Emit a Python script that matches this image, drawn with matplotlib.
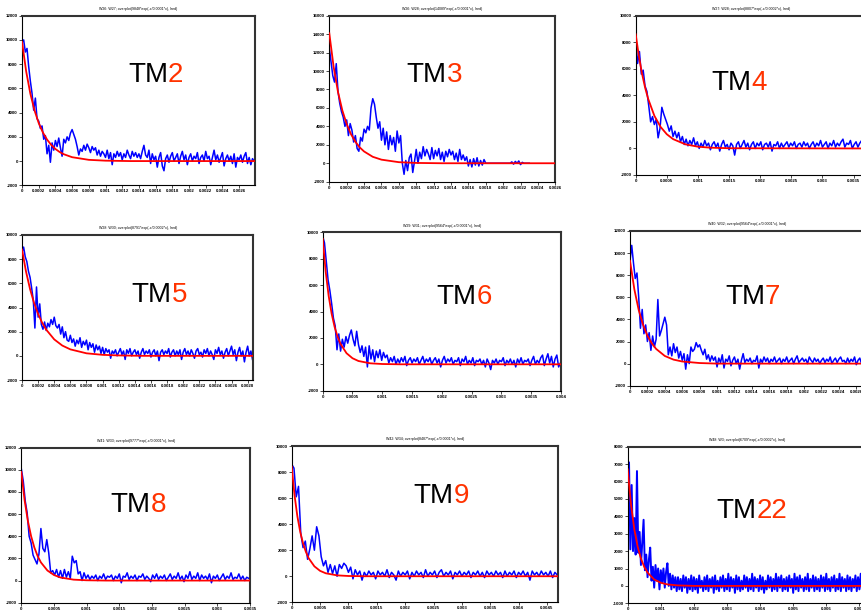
import numpy as np
import matplotlib
matplotlib.use('Agg')
import matplotlib.pyplot as plt
from matplotlib.ticker import MultipleLocator, FuncFormatter

W, H = 862, 611
plt.rcParams['font.family'] = ['Liberation Sans', 'DejaVu Sans']

# ---- data ----
names = ['2', '3', '4', '5', '6', '7', '8', '9', '22']
titles = [
    'W26: W27; overplot(9848*exp(-x/0.0001*x), lred)',
    'W26: W28; overplot(14089*exp(-x/0.0001*x), lred)',
    'W27: W28; overplot(8807*exp(-x/0.0002*x), lred)',
    'W28: W30; overplot(8791*exp(-x/0.0002*x), lred)',
    'W29: W31; overplot(9564*exp(-x/0.0001*x), lred)',
    'W40: W32; overplot(9564*exp(-x/0.0001*x), lred)',
    'W41: W33; overplot(9777*exp(-x/0.0001*x), lred)',
    'W42: W34; overplot(8487*exp(-x/0.0001*x), lred)',
    'W48: W3; overplot(6709*exp(-x/0.0002*x), lred)',
]

# blue traces (evenly sampled from 0 to *_end)
tm2_end = 0.00278
tm2 = [9800, 10000, 9000, 9300, 7800, 6600, 5600, 4200, 5200, 3500,
       3300, 2700, 2900, 1800, 2100, 600, 1300, -100, 1500, 900,
       1700, 1200, 1900, 1100, 400, 1800, 1500, 2000, 1700, 2300,
       2600, 2200, 1800, 1200, 500, 1000, 800, 1300, 900, 1400,
       1100, 700, 1200, 900, 1100, 500, 900, 400, 800, 600,
       300, 900, 200, 700, -300, 600, 300, 800, 400, 700,
       100, 600, 300, 900, 500, 200, 800, 400, 700, 300,
       600, 200, 800, 1300, 500, 300, 900, -200, 600, 100,
       400, -500, 300, 700, -400, -800, 200, 500, -100, 400,
       700, 0, 300, 600, -200, 400, 800, 100, 500, -300,
       300, 600, 0, 400, 200, 700, -200, 300, 500, 0,
       800, 200, 400, -300, 300, 900, 100, 500, -100, 300,
       700, -400, 200, 500, 0, 400, -200, 600, -500, 300,
       100, 500, -100, 400, 700, -200, 300, -300, 200, 0]

tm3_end = 0.0023
tm3 = [12500, 11000, 9500, 8800, 10800, 7800, 6500, 5600, 5000, 4000,
       4700, 3000, 4300, 3600, 2300, 3000, 1600, 1300, 2800, 2400,
       3700, 3300, 4000, 3600, 6000, 7000, 6400, 5000, 3800, 4500,
       2500, 3800, 2000, 3400, 1500, 3000, 2000, 2800, 1300, 3500,
       2200, 3000, 0, -1200, 300, -800, 600, 1000, -1000, 200,
       1500, 0, 1200, 500, 1800, 800, 1500, 1000, 400, 1700,
       500, 1400, 800, 1600, 400, 1200, 200, 1300, 700, 1500,
       900, 1300, 400, 1100, 200, 1500, 400, 900, 300, 700,
       -300, 400, -400, 500, -200, 600, -300, 300, -200, 400,
       0, 0, 0, 0, 0, 0, 0, 0, 0, 0,
       0, 0, 0, 0, 0, 150, -100, 200, 0, 250,
       -150, 100, 0, 0, 0, 0]

tm4_end = 0.00369
tm4 = [8300, 6400, 7300, 5600, 5900, 4700, 4300, 3200, 2000, 2400,
       1800, 2200, 800, 1500, 3100, 2600, 2200, 1800, 1300, 1700,
       900, 1300, 800, 1200, 500, 900, 300, 700, 200, 600,
       300, 800, 200, 500, 0, 400, 100, 600, 200, 400,
       -100, 300, 500, 100, 400, -200, 300, 600, 100, 300,
       -100, 400, 200, -500, 300, 500, 0, 300, 600, 100,
       400, -100, 300, 500, 0, 400, 200, 500, -100, 300,
       400, 100, 500, -200, 300, 200, 500, 0, 400, 100,
       300, 500, 100, 400, 200, 500, 0, 300, 400, 100,
       500, 200, 400, 0, 300, 500, 100, 400, 200, 600,
       100, 300, 500, 0, 400, 200, 600, 100, 400, 200,
       500, 700, 100, 400, 300, 600, 0, 300, 500, 100,
       400, 600, 200, 300]

tm5_end = 0.00286
tm5 = [8600, 9000, 8200, 7800, 7000, 6500, 5600, 4600, 2300, 5700,
       3200, 4300, 2600, 2200, 2800, 2100, 2700, 2400, 3000, 2600,
       3200, 2500, 2300, 2600, 1800, 2400, 1500, 2000, 1300, 1200,
       1700, 1100, 1400, 800, 1300, 1000, 1500, 700, 1200, 900,
       1300, 500, 1100, 700, 1000, 300, 900, 500, 800, 200,
       700, 100, 600, 300, 500, -200, 400, 200, 500, 0,
       300, 600, 100, 400, -300, 500, 200, 600, 0, 300,
       500, 100, 400, -200, 300, 600, 100, 400, 200, 500,
       -100, 300, 500, 0, 400, -400, 300, 500, 100, 400,
       200, 600, -100, 300, 500, 0, 400, 100, 500, -300,
       300, 600, 100, 400, 0, 500, 200, -200, 400, 600,
       100, 300, -100, 500, 200, 600, 0, 400, 100, -300,
       500, 200, 700, 100, 400, -200, 300, 600, 0, 400,
       800, 100, 500, -400, 300, 700, 0, 400, -500, 300,
       800, 0, 400, -300]

tm6_end = 0.00399
tm6 = [9700, 9200, 7800, 6400, 5600, 4600, 3500, 2900, 1100, 2300,
       1000, 1900, 1300, 2100, 1600, 2200, 2600, 1900, 1400, 2500,
       1500, 900, 1400, 600, 1300, -200, 1400, 400, 1100, 200,
       1000, 500, 1100, 300, 900, 500, 700, 100, 500, 200,
       600, 0, 400, 100, 500, 200, 600, -100, 300, 500,
       100, 400, 200, 500, 0, 300, 600, 100, 400, 200,
       500, 0, 300, 500, 100, 400, -200, 300, 600, 100,
       400, 200, 500, 0, 300, 200, 500, -100, 400, 200,
       600, 0, 300, 100, 500, -100, 300, 200, 400, 0,
       300, -200, 400, 100, -400, 300, 100, 400, 0, 300,
       200, 500, -100, 300, 100, 400, 0, 300, -200, 400,
       100, 500, 0, 300, 200, 400, -100, 300, 600, 0,
       300, 100, 500, 700, -100, 400, 800, 100, 600, -200,
       400, 700, -200, 100]

tm7_end = 0.00268
tm7 = [9300, 10700, 9100, 7700, 8200, 6000, 3200, 4900, 2700, 3500,
       2000, 2800, 1200, 2500, 1500, 2200, 5800, 2500, 3000, 3600,
       4200, 3500, 800, 1500, 700, 1800, 1000, 1500, 500, 1100,
       300, 900, -500, 800, 0, 1500, 1100, 1300, 1900, 1500,
       1700, 1200, 800, 1300, 400, 800, 200, 700, 300, 600,
       -300, 500, 100, 800, -400, 400, 200, 700, -200, 300,
       600, 0, 400, -500, 300, 900, 100, 400, 200, 500,
       0, 300, 200, 700, -400, 400, 100, 600, 200, 500,
       0, 400, 200, 600, 100, 300, 500, 0, 400, 200,
       600, 100, 300, 500, 0, 400, 700, 100, 300, 500,
       200, 400, 0, 600, 300, 100, 500, 200, 400, 0,
       300, 500, 100, 400, 200, 600, 0, 300, 500, 100,
       400, 600, 200, 300, 0, 500, 100, 400, 200, 600,
       -100, 300, 500, 0, 400]

tm8_end = 0.00348
tm8 = [10100, 9000, 7200, 6100, 4000, 3400, 2300, 1900, 1500, 2400,
       4700, 2900, 2600, 3700, 2500, 700, 900, 500, 1000, 300,
       900, 200, 1000, 300, 800, 200, 2200, 1600, 1800, 600,
       800, 0, 700, 200, 500, 100, 400, 200, 500, 0,
       400, 200, 600, 100, 400, 300, 500, 0, 400, 200,
       600, -200, 400, 300, 700, 100, 400, 200, 500, 0,
       400, 300, 600, 100, 400, 200, -100, 500, 200, 600,
       100, 400, 200, 500, 0, 300, 600, 100, 400, 200,
       700, 100, 400, -100, 500, 200, 800, 100, 400, 200,
       700, 0, 500, 200, 400, 100, 600, -200, 400, 200,
       500, 0, 300, 600, 100, 400, 200, 700, 100, 300,
       200, 600, 100, 400, 0, 300, 200]

tm9_end = 0.00468
tm9 = [8600, 8300, 6100, 6900, 3300, 2200, 2700, 1300, 2100, 3100,
       2000, 3800, 3100, 1500, 800, 1200, 300, 900, 200, 800,
       0, 900, 600, 1000, 800, 300, 700, -200, 500, 100,
       400, -300, 300, 0, 400, 100, 300, -200, 400, 100,
       300, 0, 500, -100, 300, 100, -300, 400, 0, 300,
       100, 400, -200, 300, 0, 400, 100, 300, -100, 500,
       0, 300, 100, 400, -100, 300, 500, 0, 300, 100,
       400, -200, 300, 100, 400, 0, 300, 100, 400, -100,
       300, 100, 400, 0, 300, -100, 400, 100, 300, 0,
       400, 100, 300, -100, 400, 0, 300, 100, 400, -100,
       300, 100, 400, 0, 300, -300, 400, 100, 300, 0,
       400, 100, 300, 0, 400, -100, 300, 100]

tm22_end = 0.00716
tm22 = [3500, 7100, 2100, 5800, 2000, 3900, 1800, 6600, 1900, 3100,
        1200, 2500, 3800, 900, 1800, 500, 1500, 2200, 300, 1100,
        -100, 1200, 300, 1000, -200, 900, 200, 1000, -100, 800,
        1300, 0, 700, -200, 600, -100, 500, -300, 500, -200,
        400, -300, 600, -100, 500, -400, 400, -200, 600, -300,
        500, -200, 400, -400, 600, -100, 300, -300, 500, -200,
        600, -300, 400, -100, 500, -400, 600, -200, 300, -300,
        500, -100, 600, -300, 400, -200, 700, -300, 500, -100,
        400, -400, 600, -200, 500, -300, 300, -200, 600, -100,
        500, -300, 400, -200, 700, -300, 500, -100, 400, -300,
        600, -200, 500, -400, 300, -200, 600, -100, 500, -300,
        400, -200, 700, -300, 500, -100, 600, -300, 400, -200,
        500, -300, 600, -100, 400, -400, 700, -200, 500, -300,
        600, -100, 400, -300, 500, -200, 700, -300, 400, -100,
        600, -300, 500, -200, 400, -300, 600, -100, 500, -300,
        700, -200, 400, -300, 500, -100, 600, -300, 400, -200,
        700, -300, 500, -100, 400, -300, 600, -200, 500, -300,
        400, -100, 600, -300, 500, -200, 700, -300, 400, -200]

# red exponential fits, sampled
tm2_fx = [0, 5e-5, 1e-4, 1.5e-4, 2e-4, 2.5e-4, 3e-4, 3.5e-4, 4e-4, 4.5e-4, 5e-4, 6e-4, 8e-4, 1e-3, 1.3e-3, 0.00279]
tm2_fy = [9848, 7400, 5560, 4180, 3140, 2360, 1775, 1330, 1000, 750, 566, 320, 102, 33, 0, 0]
tm3_fx = [0, 5e-5, 1e-4, 1.5e-4, 2e-4, 2.5e-4, 3e-4, 3.5e-4, 4e-4, 5e-4, 6e-4, 8e-4, 1e-3, 1.3e-3, 0.0026]
tm3_fy = [14089, 10440, 7730, 5730, 4250, 3140, 2330, 1720, 1280, 700, 390, 117, 35, 0, 0]
tm4_fx = [0, 5e-5, 1e-4, 1.5e-4, 2e-4, 3e-4, 4e-4, 5e-4, 6e-4, 8e-4, 1e-3, 1.2e-3, 1.5e-3, 0.0037]
tm4_fy = [8600, 6990, 5670, 4600, 3740, 2460, 1620, 1070, 705, 307, 133, 58, 17, 0]
tm5_fx = [0, 5e-5, 1e-4, 1.5e-4, 2e-4, 2.5e-4, 3e-4, 4e-4, 5e-4, 6e-4, 8e-4, 1e-3, 1.2e-3, 1.5e-3, 0.00287]
tm5_fy = [8800, 6970, 5520, 4370, 3460, 2740, 2170, 1360, 850, 534, 209, 83, 33, 0, 0]
tm6_fx = [0, 5e-5, 1e-4, 1.5e-4, 2e-4, 2.5e-4, 3e-4, 4e-4, 5e-4, 6e-4, 8e-4, 1e-3, 1.3e-3, 0.004]
tm6_fy = [9500, 7020, 5180, 3830, 2830, 2090, 1540, 840, 460, 250, 74, 22, 0, 0]
tm7_fx = [0, 5e-5, 1e-4, 1.5e-4, 2e-4, 2.5e-4, 3e-4, 4e-4, 5e-4, 6e-4, 8e-4, 1e-3, 0.0027]
tm7_fy = [9300, 6720, 4850, 3510, 2530, 1840, 1330, 690, 360, 190, 51, 0, 0]
tm8_fx = [0, 5e-5, 1e-4, 1.5e-4, 2e-4, 2.5e-4, 3e-4, 4e-4, 5e-4, 6e-4, 8e-4, 1e-3, 1.3e-3, 0.0035]
tm8_fy = [9800, 7270, 5400, 4010, 2980, 2210, 1640, 906, 500, 275, 83, 25, 0, 0]
tm9_fx = [0, 5e-5, 1e-4, 1.5e-4, 2e-4, 2.5e-4, 3e-4, 4e-4, 5e-4, 6e-4, 8e-4, 1e-3, 1.3e-3, 0.0047]
tm9_fy = [8400, 6220, 4600, 3410, 2530, 1870, 1380, 760, 415, 228, 68, 20, 0, 0]
tm22_fx = [0, 1e-4, 2e-4, 3e-4, 4e-4, 5e-4, 6e-4, 8e-4, 1e-3, 1.2e-3, 1.5e-3, 2e-3, 0.0072]
tm22_fy = [6700, 4670, 3250, 2260, 1570, 1095, 763, 370, 179, 87, 29, 0, 0]

traces = [(tm2, tm2_end, tm2_fx, tm2_fy), (tm3, tm3_end, tm3_fx, tm3_fy),
          (tm4, tm4_end, tm4_fx, tm4_fy), (tm5, tm5_end, tm5_fx, tm5_fy),
          (tm6, tm6_end, tm6_fx, tm6_fy), (tm7, tm7_end, tm7_fx, tm7_fy),
          (tm8, tm8_end, tm8_fx, tm8_fy), (tm9, tm9_end, tm9_fx, tm9_fy),
          (tm22, tm22_end, tm22_fx, tm22_fy)]

# ---- layout: axes box in pixels (l, t, r, b), x range/step, y range/step, label anchor, line width ----
layout = [
    ((22, 15.7, 255, 185.3), 0.00279, 0.0002, (-2000, 12000, 2000), (168, 81.7), 1.1),
    ((329.3, 15.7, 555.3, 181.7), 0.0026, 0.0002, (-2000, 16000, 2000), (446.7, 81.7), 1.1),
    ((635.7, 15.7, 866, 175), 0.0037, 0.0005, (-2000, 10000, 2000), (751.7, 90), 1.1),
    ((22, 235, 253.3, 380), 0.00287, 0.0002, (-2000, 10000, 2000), (171.7, 301.7), 1.1),
    ((322.7, 232.3, 561, 390.7), 0.004, 0.0005, (-2000, 10000, 2000), (476.7, 304.3), 1.1),
    ((630, 231, 865, 385.7), 0.0027, 0.0002, (-2000, 12000, 2000), (765, 304.3), 1.1),
    ((21.3, 447.7, 250, 602.7), 0.0035, 0.0005, (-2000, 12000, 2000), (150.7, 511.7), 1.1),
    ((291.7, 446, 558.3, 602.3), 0.0047, 0.0005, (-2000, 10000, 2000), (453.3, 503.3), 1.1),
    ((627.7, 446.7, 866, 603.3), 0.0072, 0.001, (-1000, 8000, 1000), (756.7, 517.7), 1.4),
]

fig = plt.figure(figsize=(W / 100, H / 100), dpi=100)
fmt = FuncFormatter(lambda v, p: '%g' % round(v, 6))

for (blue, t_end, fx, fy), (box, xmax, xstep, (y0, y1, ys), (bx, by), lw), name, title in zip(
        traces, layout, names, titles):
    l, t, r, b = box
    ax = fig.add_axes([l / W, 1 - b / H, (r - l) / W, (b - t) / H])
    x = np.linspace(0, t_end, len(blue))
    ax.plot(x, blue, color='#0000ff', lw=lw, zorder=2)
    ax.plot(fx, fy, color='#ff0000', lw=1.3, zorder=3)
    ax.set_xlim(0, xmax)
    ax.set_ylim(y0, y1)
    ax.xaxis.set_major_locator(MultipleLocator(xstep))
    ax.yaxis.set_major_locator(MultipleLocator(ys))
    ax.xaxis.set_major_formatter(fmt)
    ax.yaxis.set_major_formatter(fmt)
    ax.tick_params(direction='out', length=2, width=0.5, labelsize=3.2, pad=1)
    for lab in ax.get_xticklabels() + ax.get_yticklabels():
        lab.set_fontweight('bold')
    for side in ('left', 'bottom'):
        ax.spines[side].set_linewidth(0.8)
    for side in ('top', 'right'):
        ax.spines[side].set_linewidth(1.5)
        ax.spines[side].set_color('#333333')
    ax.set_title(title, fontsize=2.6, pad=4)
    fig.text(bx / W, 1 - by / H, 'TM', ha='right', va='baseline', fontsize=20, color='black')
    fig.text(bx / W, 1 - by / H, name, ha='left', va='baseline', fontsize=20, color='#ff3300')

fig.savefig('out.png', dpi=100)
